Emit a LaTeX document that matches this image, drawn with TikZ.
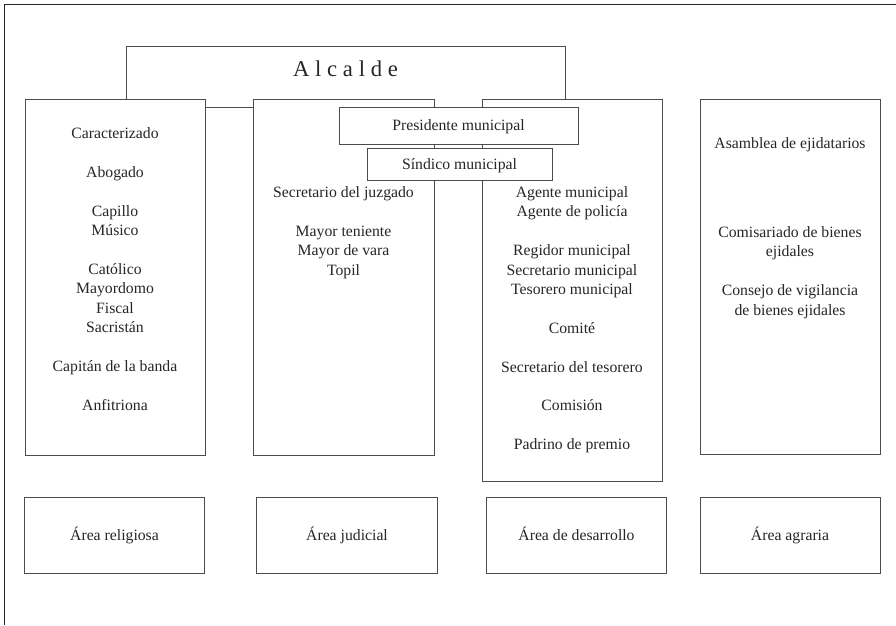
\documentclass[tikz,border=0pt]{standalone}
\usepackage{fontspec}
\setmainfont{Liberation Serif}
\begin{document}
\begin{tikzpicture}[x=0.75pt,y=-0.75pt,
  frame/.style={draw=black!85, line width=0.9pt},
  box/.style={draw=black!70, line width=0.75pt, rectangle, inner sep=0pt, fill=white},
  link/.style={draw=black!70, line width=0.75pt},
  txt/.style={inner sep=0pt, anchor=base, text=black!85, font=\fontsize{11.8pt}{14pt}\selectfont},
  boxtxt/.style={text=black!85, font=\fontsize{11.8pt}{14pt}\selectfont, text height=9.5pt, text depth=1.75pt},
]
\useasboundingbox (0,0) rectangle (896,625);
\draw[frame] (4.5,625) -- (4.5,4.5) -- (896,4.5);

% column boxes
\node[box, minimum width=135pt, minimum height=267pt] (rel) at (115,277) {};
\node[box, minimum width=135.75pt, minimum height=267pt] (jud) at (343.5,277) {};
\node[box, minimum width=135pt, minimum height=286.5pt] (des) at (572,290) {};
\node[box, minimum width=135pt, minimum height=266.25pt] (agr) at (790,276.5) {};

% Alcalde bracket
\draw[link] ([xshift=8.25pt]rel.north) -- ++(0,-52) -| ([xshift=-5.25pt]des.north);
\node[txt, font=\fontsize{17pt}{20pt}\selectfont] (alc) at (345.5,76)
  {A\hspace{4.3pt}l\hspace{4.3pt}c\hspace{4.3pt}a\hspace{4.3pt}l\hspace{4.3pt}d\hspace{4.3pt}e};

% link religious - judicial
\draw[link] ([yshift=-6.75pt]rel.north east) -- ([yshift=-6.75pt]jud.north west);

% overlapping boxes
\node[box, boxtxt, minimum width=179.25pt, minimum height=28.1pt] (pres) at (458.5,125.75) {Presidente municipal};
\node[box, boxtxt, minimum width=138.75pt, minimum height=24pt] (sind) at (459.5,164) {Síndico municipal};

% texts
\foreach \t/\n [count=\i] in {Caracterizado/0, Abogado/2, Capillo/4, Músico/5, Católico/7, Mayordomo/8, Fiscal/9, Sacristán/10, Capitán de la banda/12, Anfitriona/14}
  \node[txt] (r\i) at (115,138.5+19.4*\n) {\t};
\foreach \t/\n [count=\i] in {Secretario del juzgado/0, Mayor teniente/2, Mayor de vara/3, Topil/4}
  \node[txt] (j\i) at (343.5,197.5+19.4*\n) {\t};
\foreach \t/\n [count=\i] in {Agente municipal/0, Agente de policía/1, Regidor municipal/3, Secretario municipal/4, Tesorero municipal/5, Comité/7, Secretario del tesorero/9, Comisión/11, Padrino de premio/13}
  \node[txt] (d\i) at (572,197.5+19.4*\n) {\t};
\node[txt] (a0) at (790,148.5) {Asamblea de ejidatarios};
\foreach \t/\n [count=\i] in {Comisariado de bienes/0, ejidales/1, Consejo de vigilancia/3, de bienes ejidales/4}
  \node[txt] (a\i) at (790,237.5+19.4*\n) {\t};

% area boxes
\node[box, boxtxt, minimum width=135pt, minimum height=57pt] (arel) at (114.5,535) {Área religiosa};
\node[box, boxtxt, minimum width=135.3pt, minimum height=57pt] (ajud) at (347,535) {Área judicial};
\node[box, boxtxt, minimum width=135pt, minimum height=57pt] (ades) at (576.5,535) {Área de desarrollo};
\node[box, boxtxt, minimum width=135pt, minimum height=57pt] (aagr) at (790,535) {Área agraria};
\end{tikzpicture}
\end{document}
